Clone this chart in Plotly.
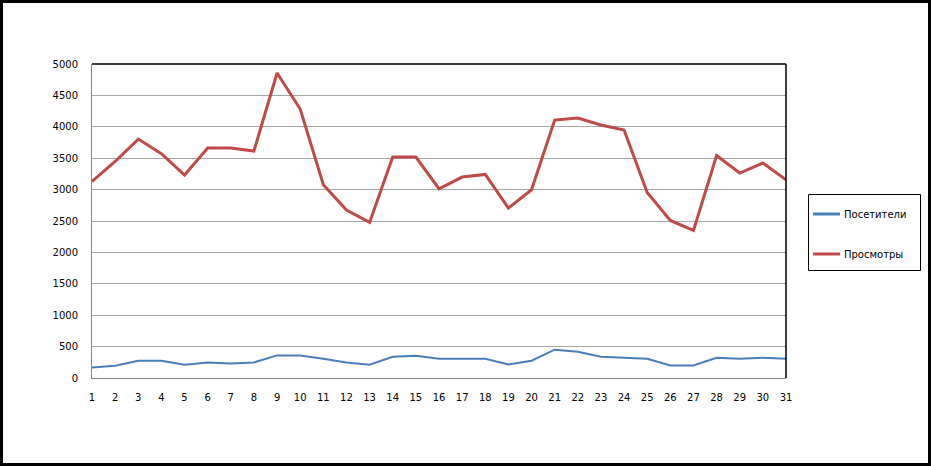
import plotly.graph_objects as go

days = list(range(1, 32))
visitors = [169, 196, 275, 275, 212, 248, 232, 248, 360, 360, 307, 248, 212, 339, 355,
            307, 307, 307, 217, 275, 451, 419, 339, 323, 307, 201, 201, 323, 307, 323, 307]
views = [3130, 3448, 3805, 3571, 3232, 3662, 3662, 3614, 4856, 4283, 3077, 2675, 2477, 3518, 3518,
         3014, 3200, 3242, 2706, 2998, 4107, 4139, 4028, 3948, 2955, 2509, 2350, 3544, 3264, 3423, 3157]
series_names = ["Посетители", "Просмотры"]
series_colors = ["#4A7EBB", "#BE4B48"]
series_widths = [2, 3]
y_ticks = list(range(0, 5001, 500))

FONT = "DejaVu Sans"
fig = go.Figure()
for name, vals, col, w in zip(series_names, [visitors, views], series_colors, series_widths):
    fig.add_trace(go.Scatter(x=days, y=vals, mode="lines", name=name,
                             line=dict(color=col, width=w), showlegend=False))

L, R, T, B = 92, 145, 64, 88
W, H = 931, 466
pw, ph = W - L - R, H - T - B

def px(x):
    return (x - L) / pw

def py(y):
    return (H - B - y) / ph

shapes = [
    dict(type="line", xref="paper", yref="paper", x0=0, x1=1, y0=1, y1=1,
         line=dict(color="black", width=1.5)),
    dict(type="line", xref="paper", yref="paper", x0=1, x1=1, y0=0, y1=1,
         line=dict(color="black", width=1.5)),
    dict(type="rect", xref="paper", yref="paper", x0=px(1.5), x1=px(929.5), y0=py(1.5), y1=py(464.5),
         line=dict(color="black", width=3)),
    # legend box
    dict(type="rect", xref="paper", yref="paper", x0=px(808.5), x1=px(920.5), y0=py(194.5), y1=py(270.5),
         line=dict(color="black", width=1), fillcolor="white"),
]
annotations = []
legend_rows = [214, 254]
for name, col, row in zip(series_names, series_colors, legend_rows):
    shapes.append(dict(type="line", xref="paper", yref="paper", x0=px(813), x1=px(840),
                       y0=py(row), y1=py(row), line=dict(color=col, width=3)))
    annotations.append(dict(xref="paper", yref="paper", x=px(842), y=py(row), text=name,
                            showarrow=False, xanchor="left", yanchor="middle",
                            font=dict(family=FONT, size=10, color="black")))

fig.update_layout(
    width=W, height=H,
    margin=dict(l=L, r=R, t=T, b=B),
    paper_bgcolor="white", plot_bgcolor="white",
    font=dict(family=FONT, size=10, color="black"),
    showlegend=False,
    xaxis=dict(range=[1, 31], tickmode="array", tickvals=days, ticktext=[str(d) for d in days],
               showgrid=False, zeroline=False, showline=True, linecolor="#868686", linewidth=1,
               ticks="", ticklabelstandoff=10, tickfont=dict(family=FONT, size=10, color="black")),
    yaxis=dict(range=[0, 5000], tickmode="array", tickvals=y_ticks, showgrid=True,
               gridcolor="#A6A6A6", gridwidth=1, zeroline=False, showline=True,
               linecolor="#868686", linewidth=1, ticks="", ticklabelstandoff=11,
               tickfont=dict(family=FONT, size=10, color="black")),
    shapes=shapes,
    annotations=annotations,
)
fig.write_html("out.html", config={"displayModeBar": False},
               post_script="document.body.style.margin='0';document.body.style.overflow='hidden';")
